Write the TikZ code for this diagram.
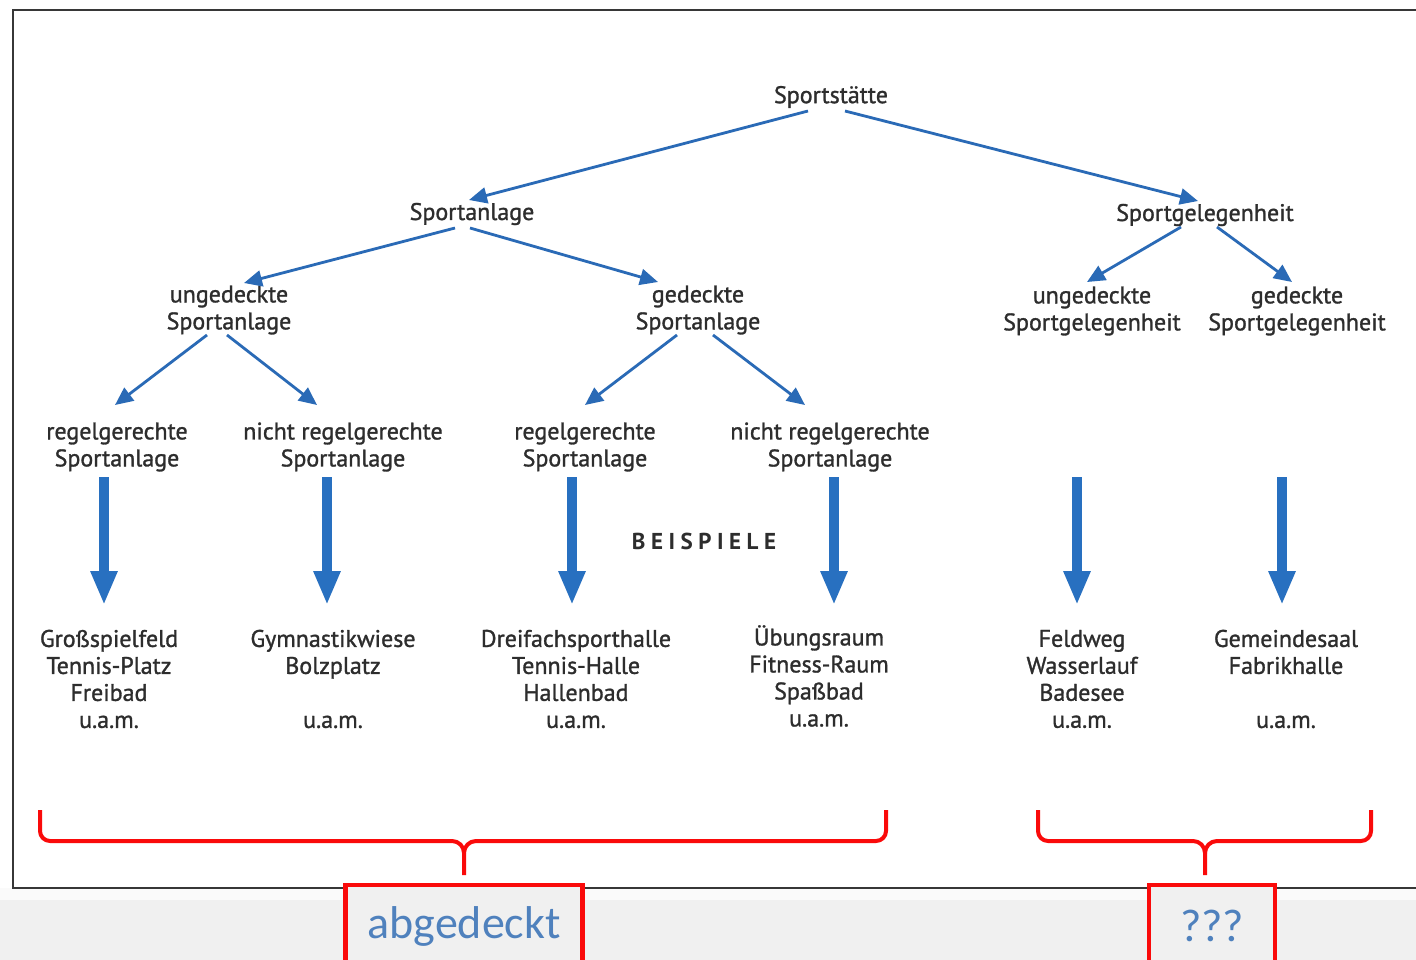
\documentclass[tikz,border=0pt]{standalone}
\usepackage{fontspec}
\setmainfont{PT Sans}
\font\labf="PT Sans:embolden=1.2" at 24pt
\newfontfamily\calib{Carlito}
\newfontfamily\spaced{PT Sans}[LetterSpace=24]
\usetikzlibrary{arrows.meta}
\definecolor{txt}{RGB}{45,45,45}
\definecolor{arr}{RGB}{42,106,182}
\definecolor{thickc}{RGB}{40,112,192}
\definecolor{redb}{RGB}{250,10,10}
\definecolor{lbl}{RGB}{79,129,189}
\definecolor{band}{RGB}{240,240,240}
\definecolor{framec}{RGB}{55,55,55}
\begin{document}
\begin{tikzpicture}[x=1pt,y=-1pt,
 lab/.style={font={\labf\baselineskip=27pt}, text=txt, align=center, inner sep=0pt, outer sep=0pt},
 thinarr/.style={draw=arr, line width=2.8pt, -{Triangle[length=18pt,width=16pt]}},
 bigarr/.style={draw=thickc, line width=10pt, -{Triangle[length=34pt,width=25pt]}},
 brace/.style={draw=redb, line width=4pt, line join=round},
 tagbox/.style={draw=redb, line width=4.5pt, fill=band, minimum width=237pt, minimum height=82pt, inner sep=0pt, outer sep=0pt, text=lbl, font=\calib\fontsize{46}{50}\selectfont}]
\useasboundingbox (0,0) rectangle (1416,960);
\clip (0,0) rectangle (1416,960);
\fill[white] (0,0) rectangle (1416,960);
\fill[black!2] (0,888) rectangle (1416,900);
\fill[band] (0,900) rectangle (1416,960);
\draw[framec, line width=2.5pt] (13,10) rectangle (1450,888);

% nodes
\node[lab] (st) at (831,97) {Sportstätte};
\node[lab] (sa) at (472,214) {Sportanlage};
\node[lab] (sg) at (1205,215) {Sportgelegenheit};
\node[lab] (usa) at (229,310) {ungedeckte\\Sportanlage};
\node[lab] (gsa) at (698,310) {gedeckte\\Sportanlage};
\node[lab] (usg) at (1092,311) {ungedeckte\\Sportgelegenheit};
\node[lab] (gsg) at (1297,311) {gedeckte\\Sportgelegenheit};
\node[lab] (r1) at (117,447) {regelgerechte\\Sportanlage};
\node[lab] (n1) at (343,447) {nicht regelgerechte\\Sportanlage};
\node[lab] (r2) at (585,447) {regelgerechte\\Sportanlage};
\node[lab] (n2) at (830,447) {nicht regelgerechte\\Sportanlage};
\node[inner sep=0pt, text=txt, font=\spaced\bfseries\fontsize{23}{27}\selectfont] (bsp) at (704,541) {BEISPIELE};
\node[lab] (e1) at (109,679) {Großspielfeld\\Tennis-Platz\\Freibad\\u.a.m.};
\node[lab] (e2) at (333,679) {Gymnastikwiese\\Bolzplatz\\\mbox{}\\u.a.m.};
\node[lab] (e3) at (576,679) {Dreifachsporthalle\\Tennis-Halle\\Hallenbad\\u.a.m.};
\node[lab] (e4) at (819,676) {Übungsraum\\Fitness-Raum\\Spaßbad\\u.a.m.};
\node[lab] (e5) at (1082,679) {Feldweg\\Wasserlauf\\Badesee\\u.a.m.};
\node[lab] (e6) at (1286,679) {Gemeindesaal\\Fabrikhalle\\\mbox{}\\u.a.m.};

% thin arrows
\draw[thinarr] ([shift={(-23,14)}]st.center) -- ([shift={(-3,-14)}]sa.center);
\draw[thinarr] ([shift={(14,14)}]st.center) -- ([shift={(-7,-14)}]sg.center);
\draw[thinarr] ([shift={(-17,14)}]sa.center) -- ([shift={(15,-27)}]usa.center);
\draw[thinarr] ([shift={(-2,14)}]sa.center) -- ([shift={(-40,-28)}]gsa.center);
\draw[thinarr] ([shift={(-24,12)}]sg.center) -- ([shift={(-5,-29)}]usg.center);
\draw[thinarr] ([shift={(12,12)}]sg.center) -- ([shift={(-5,-29)}]gsg.center);
\draw[thinarr] ([shift={(-22,25)}]usa.center) -- ([shift={(-2,-42)}]r1.center);
\draw[thinarr] ([shift={(-2,25)}]usa.center) -- ([shift={(-26,-42)}]n1.center);
\draw[thinarr] ([shift={(-21,25)}]gsa.center) -- ([shift={(0,-42)}]r2.center);
\draw[thinarr] ([shift={(15,25)}]gsa.center) -- ([shift={(-25,-42)}]n2.center);

% thick arrows
\draw[bigarr] ([shift={(-13,30)}]r1.center) -- ([shift={(-5,-74)}]e1.center);
\draw[bigarr] ([shift={(-16,30)}]n1.center) -- ([shift={(-6,-74)}]e2.center);
\draw[bigarr] ([shift={(-13,30)}]r2.center) -- ([shift={(-4,-74)}]e3.center);
\draw[bigarr] ([shift={(4,30)}]n2.center) -- ([shift={(15,-71)}]e4.center);
\draw[bigarr] ([shift={(-15,166)}]usg.center) -- ([shift={(-5,-74)}]e5.center);
\draw[bigarr] ([shift={(-15,166)}]gsg.center) -- ([shift={(-4,-74)}]e6.center);

% boxes
\node[tagbox] (abg) at (464,926) {abgedeckt};
\node[tagbox, minimum width=126pt] (qq) at (1212,926) {???};

% braces
\draw[brace] (40,810) -- (40,831) to[out=-90,in=180] (50,841) -- (452,841) to[out=0,in=90] (464,853) -- ([shift={(0,-10)}]abg.north);
\draw[brace] (464,853) to[out=90,in=180] (476,841) -- (876,841) to[out=0,in=-90] (886,831) -- (886,810);
\draw[brace] (1038,810) -- (1038,831) to[out=-90,in=180] (1048,841) -- (1193,841) to[out=0,in=90] (1205,853) -- ([shift={(-7,-10)}]qq.north);
\draw[brace] (1205,853) to[out=90,in=180] (1217,841) -- (1361,841) to[out=0,in=-90] (1371,831) -- (1371,810);
\end{tikzpicture}
\end{document}
